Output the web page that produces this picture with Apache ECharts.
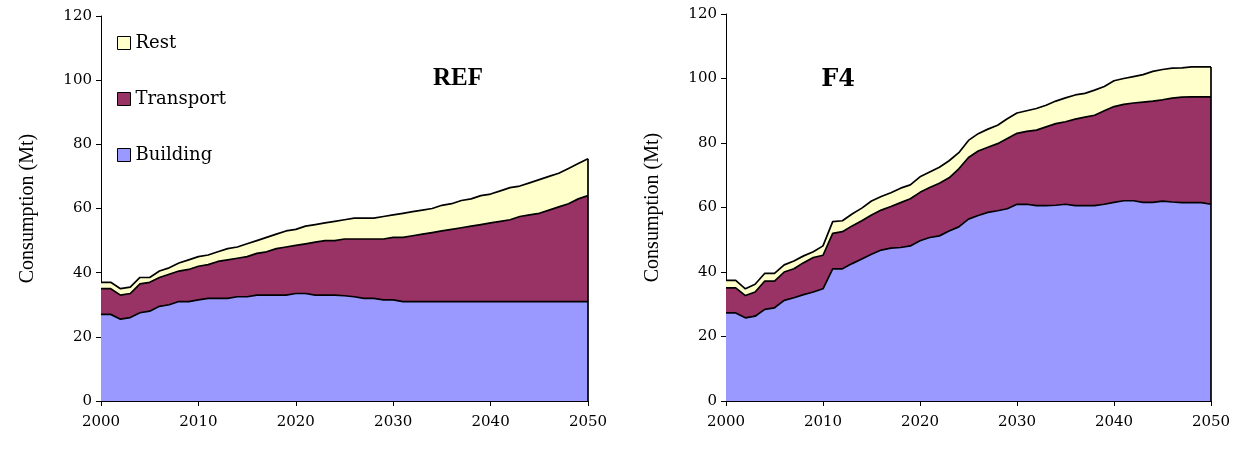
<!DOCTYPE html>
<html>
<head>
<meta charset="utf-8">
<title>Consumption REF / F4</title>
<script src="https://cdn.jsdelivr.net/npm/echarts@6/dist/echarts.min.js"></script>
<style>
  html, body { margin: 0; padding: 0; background: #fff; }
  #main { width: 1239px; height: 450px; }
</style>
</head>
<body>
<div id="main"></div>
<script>
// years on the x axis
var years = [];
for (var y = 2000; y <= 2050; y++) years.push(String(y));

var yTicks = [0, 20, 40, 60, 80, 100, 120];

// REF scenario (Mt), one value per year 2000..2050
var refBuilding = [27, 27, 25.5, 26, 27.5, 28, 29.5, 30, 31, 31,
  31.5, 32, 32, 32, 32.5, 32.5, 33, 33, 33, 33,
  33.5, 33.5, 33, 33, 33, 32.8, 32.5, 32, 32, 31.5,
  31.5, 31, 31, 31, 31, 31, 31, 31, 31, 31,
  31, 31, 31, 31, 31, 31, 31, 31, 31, 31, 31];
var refTransport = [8, 8, 7.5, 7.5, 9, 9, 9, 9.5, 9.5, 10,
  10.5, 10.5, 11.5, 12, 12, 12.5, 13, 13.5, 14.5, 15,
  15, 15.5, 16.5, 17, 17, 17.7, 18, 18.5, 18.5, 19,
  19.5, 20, 20.5, 21, 21.5, 22, 22.5, 23, 23.5, 24,
  24.5, 25, 25.5, 26.5, 27, 27.5, 28.5, 29.5, 30.5, 32, 33];
var refRest = [2, 2, 2, 2, 2, 1.5, 2, 2, 2.5, 3,
  3, 3, 3, 3.5, 3.5, 4, 4, 4.5, 4.5, 5,
  5, 5.5, 5.5, 5.5, 6, 6, 6.5, 6.5, 6.5, 7,
  7, 7.5, 7.5, 7.5, 7.5, 8, 8, 8.5, 8.5, 9,
  9, 9.5, 10, 9.5, 10, 10.5, 10.5, 10.5, 11, 11, 11.5];

// F4 scenario (Mt)
var f4Building = [27.3, 27.3, 25.8, 26.3, 28.4, 28.9, 31.2, 32, 33, 33.8,
  34.8, 41, 41, 42.6, 44, 45.5, 46.8, 47.4, 47.6, 48.1,
  49.7, 50.7, 51.2, 52.7, 54, 56.4, 57.5, 58.5, 59, 59.6,
  61, 61, 60.6, 60.6, 60.7, 61, 60.6, 60.6, 60.6, 61,
  61.6, 62.1, 62.1, 61.6, 61.6, 62, 61.7, 61.5, 61.5, 61.5, 61];
var f4Transport = [7.8, 7.8, 6.9, 7.5, 8.8, 8.3, 8.8, 9, 9.9, 10.7,
  10.4, 11, 11.5, 11.7, 11.9, 12.2, 12.4, 12.9, 13.9, 14.6,
  15, 15.5, 16.3, 16.5, 18, 19.1, 20, 20.2, 20.8, 21.8,
  22, 22.6, 23.4, 24.4, 25.3, 25.6, 26.8, 27.4, 28, 29,
  29.7, 29.9, 30.3, 31.1, 31.4, 31.4, 32.2, 32.7, 32.8, 32.8, 33.3];
var f4Rest = [2.3, 2.3, 2.1, 2.4, 2.4, 2.4, 2.2, 2.4, 2.1, 1.8,
  2.9, 3.6, 3.4, 3.7, 3.9, 4.3, 4.2, 4.3, 4.5, 4.3,
  4.8, 4.8, 5, 5.3, 5, 5.3, 5.4, 5.6, 5.7, 6.1,
  6.3, 6.4, 6.7, 6.7, 7, 7.4, 7.5, 7.4, 7.8, 7.5,
  8, 8, 8.2, 8.5, 9.2, 9.4, 9.3, 9.1, 9.3, 9.3, 9.3];

var colBuilding = '#9999FF';
var colTransport = '#993366';
var colRest = '#FFFFCC';

var numFont = 'DejaVu Serif';
var txtFont = 'Liberation Serif';

var myChart = echarts.init(document.getElementById('main'));

function makeSeries(idx, name, data, color, stackName, edgeTop) {
	var s = {
		name : name,
		type : 'line',
		stack : stackName,
		xAxisIndex : idx,
		yAxisIndex : idx,
		data : data,
		showSymbol : false,
		symbol : 'none',
		color : color,
		lineStyle : { color : '#000', width : 1.7 },
		areaStyle : { color : color, opacity : 1 },
		emphasis : { disabled : true },
		z : 2
	};
	if (edgeTop != null) {
		// closing vertical outline at the right end of the area
		s.markLine = {
			silent : true,
			symbol : 'none',
			label : { show : false },
			lineStyle : { color : '#000', width : 1.7, type : 'solid' },
			data : [ [ { coord : [ years[years.length - 1], 0 ] },
			           { coord : [ years[years.length - 1], edgeTop ] } ] ]
		};
	}
	return s;
}

function last(a) { return a[a.length - 1]; }

function xAxisOpt(idx) {
	return {
		type : 'category',
		gridIndex : idx,
		data : years,
		boundaryGap : false,
		axisLine : { show : true, lineStyle : { color : '#000', width : 1 } },
		axisTick : { show : true, interval : 9, length : 5, lineStyle : { color : '#000' } },
		axisLabel : { interval : 9, margin : 14, color : '#000', fontFamily : numFont, fontSize : 15 },
		splitLine : { show : false }
	};
}

function yAxisOpt(idx) {
	return {
		type : 'value',
		gridIndex : idx,
		min : yTicks[0],
		max : yTicks[yTicks.length - 1],
		interval : 20,
		name : 'Consumption (Mt)',
		nameLocation : 'middle',
		nameGap : 63,
		nameTextStyle : { color : '#000', fontFamily : txtFont, fontSize : 20 },
		axisLine : { show : true, lineStyle : { color : '#000', width : 1 } },
		axisTick : { show : true, length : 5, lineStyle : { color : '#000' } },
		axisLabel : { margin : 9, color : '#000', fontFamily : numFont, fontSize : 15 },
		splitLine : { show : false }
	};
}

myChart.setOption({
	animation : false,
	backgroundColor : '#fff',
	title : [ {
		text : 'REF',
		left : 453,
		top : 61,
		textAlign : 'center',
		textStyle : { fontFamily : txtFont, fontWeight : 'bold', fontSize : 25, color : '#000' }
	}, {
		text : 'F4',
		left : 833,
		top : 63,
		textAlign : 'center',
		textStyle : { fontFamily : numFont, fontWeight : 'bold', fontSize : 24, color : '#000' }
	} ],
	legend : {
		orient : 'vertical',
		left : 112,
		top : 29,
		itemWidth : 13,
		itemHeight : 13,
		itemGap : 38,
		itemTextGap : 8,
		icon : 'rect',
		data : [ 'Rest', 'Transport', 'Building' ],
		itemStyle : { borderColor : '#000', borderWidth : 1 },
		textStyle : { fontFamily : numFont, fontSize : 18, lineHeight : 17, color : '#000' },
		selectedMode : false
	},
	grid : [ { left : 101, top : 16, width : 487, height : 385 },
	         { left : 726, top : 14, width : 485, height : 387 } ],
	xAxis : [ xAxisOpt(0), xAxisOpt(1) ],
	yAxis : [ yAxisOpt(0), yAxisOpt(1) ],
	series : [
		makeSeries(0, 'Building', refBuilding, colBuilding, 'ref', null),
		makeSeries(0, 'Transport', refTransport, colTransport, 'ref', null),
		makeSeries(0, 'Rest', refRest, colRest, 'ref', last(refBuilding) + last(refTransport) + last(refRest)),
		makeSeries(1, 'Building', f4Building, colBuilding, 'f4', null),
		makeSeries(1, 'Transport', f4Transport, colTransport, 'f4', null),
		makeSeries(1, 'Rest', f4Rest, colRest, 'f4', last(f4Building) + last(f4Transport) + last(f4Rest))
	]
});
</script>
</body>
</html>
